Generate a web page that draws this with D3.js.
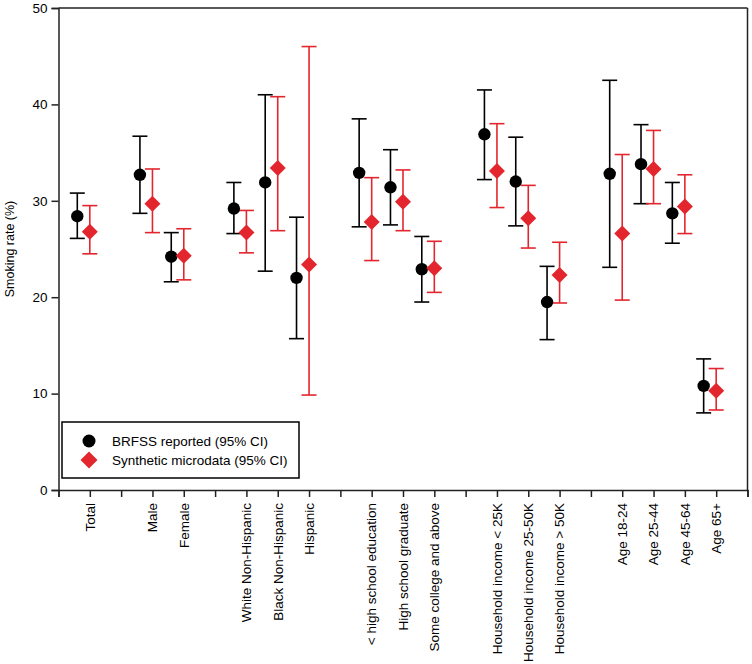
<!DOCTYPE html>
<html><head><meta charset="utf-8">
<script src="https://cdn.jsdelivr.net/npm/d3@7"></script>
<style>body{margin:0;background:#fff;}svg{display:block;font-family:"Liberation Sans",Arial,Helvetica,sans-serif;}</style>
</head><body>
<svg id="c" width="752" height="664"></svg>
<script>
const categories = ["Total","Male","Female","White Non-Hispanic","Black Non-Hispanic","Hispanic","< high school education","High school graduate","Some college and above","Household income < 25K","Household income 25-50K","Household income > 50K","Age 18-24","Age 25-44","Age 45-64","Age 65+"];
const slots = [1,3,4,6,7,8,10,11,12,14,15,16,18,19,20,21];
const brfssValue = [28.4,32.7,24.2,29.2,31.9,22.0,32.9,31.4,22.9,36.9,32.0,19.5,32.8,33.8,28.7,10.8];
const brfssLow   = [26.1,28.7,21.6,26.6,22.7,15.7,27.3,27.5,19.5,32.2,27.4,15.6,23.1,29.7,25.6,8.0];
const brfssHigh  = [30.8,36.7,26.7,31.9,41.0,28.3,38.5,35.3,26.3,41.5,36.6,23.2,42.5,37.9,31.9,13.6];
const synthValue = [26.8,29.7,24.3,26.7,33.4,23.4,27.8,29.9,23.0,33.1,28.2,22.3,26.6,33.3,29.4,10.3];
const synthLow   = [24.5,26.7,21.8,24.6,26.9,9.85,23.8,26.9,20.5,29.3,25.1,19.4,19.7,29.7,26.6,8.3];
const synthHigh  = [29.5,33.3,27.1,29.0,40.8,46.0,32.4,33.2,25.8,38.0,31.6,25.7,34.8,37.3,32.7,12.6];
const yTicks = [0,10,20,30,40,50];
const legendLabels = ["BRFSS reported (95% CI)","Synthetic microdata (95% CI)"];

const svg = d3.select("#c");
const L = 58.5, R = 747.5, T = 8, B = 490;
const x = d3.scaleLinear().domain([0,22]).range([L,R]);
const y = d3.scaleLinear().domain([0,50]).range([B,T]);
const black = "#000", red = "#e3262e";
const offset = 0.4;
const fs = 13.5;

// frame top & right
svg.append("line").attr("x1",L).attr("x2",R).attr("y1",T).attr("y2",T).attr("stroke","#222").attr("stroke-width",1.5);
svg.append("line").attr("x1",R).attr("x2",R).attr("y1",T).attr("y2",B).attr("stroke","#222").attr("stroke-width",1.5);

// y axis
const ya = svg.append("g").attr("transform",`translate(${L},0)`)
  .call(d3.axisLeft(y).tickValues(yTicks).tickSize(7).tickPadding(4).tickFormat(d3.format("d")));
ya.select(".domain").attr("stroke","#222").attr("stroke-width",1.5);
ya.selectAll(".tick line").attr("stroke","#222").attr("stroke-width",1.5);
ya.selectAll("text").attr("font-size",fs).attr("fill","#000").attr("font-family",'"Liberation Sans",Arial,sans-serif');

// x axis
const xa = svg.append("g").attr("transform",`translate(0,${B})`)
  .call(d3.axisBottom(x).tickValues(d3.range(0,23)).tickSize(7).tickFormat(""));
xa.select(".domain").attr("stroke","#222").attr("stroke-width",1.5);
xa.selectAll(".tick line").attr("stroke","#222").attr("stroke-width",1.5);

// x labels
svg.append("g").selectAll("text").data(categories).join("text")
  .attr("transform",(d,i)=>`translate(${x(slots[i])+4.8},${B+13}) rotate(-90)`)
  .attr("text-anchor","end").attr("font-size",fs).attr("fill","#000").text(d=>d);

// y label
svg.append("text").attr("transform",`translate(14,${(T+B)/2}) rotate(-90)`)
  .attr("text-anchor","middle").attr("font-size",12.5).attr("fill","#000").text("Smoking rate (%)");

function errorBars(vals, lo, hi, dx, color){
  const g = svg.append("g").attr("stroke",color).attr("stroke-width",1.6).attr("fill","none");
  vals.forEach((v,i)=>{
    const cx = x(slots[i]+dx);
    g.append("line").attr("x1",cx).attr("x2",cx).attr("y1",y(lo[i])).attr("y2",y(hi[i]));
    g.append("line").attr("x1",cx-7.5).attr("x2",cx+7.5).attr("y1",y(lo[i])).attr("y2",y(lo[i]));
    g.append("line").attr("x1",cx-7.5).attr("x2",cx+7.5).attr("y1",y(hi[i])).attr("y2",y(hi[i]));
  });
}
errorBars(brfssValue, brfssLow, brfssHigh, -offset, black);
errorBars(synthValue, synthLow, synthHigh, 0, red);

const diamond = s => `M0,${-s}L${s},0L0,${s}L${-s},0Z`;
svg.append("g").selectAll("circle").data(brfssValue).join("circle")
  .attr("cx",(d,i)=>x(slots[i]-offset)).attr("cy",d=>y(d)).attr("r",6.2).attr("fill",black);
svg.append("g").selectAll("path").data(synthValue).join("path")
  .attr("transform",(d,i)=>`translate(${x(slots[i])},${y(d)})`).attr("d",diamond(8)).attr("fill",red);

// legend
const lg = svg.append("g");
lg.append("rect").attr("x",62).attr("y",422).attr("width",237).attr("height",56)
  .attr("fill","#fff").attr("stroke","#000").attr("stroke-width",1.5);
lg.append("circle").attr("cx",89).attr("cy",441).attr("r",6.5).attr("fill",black);
lg.append("path").attr("transform","translate(89,460)").attr("d",diamond(8.5)).attr("fill",red);
lg.selectAll("text").data(legendLabels).join("text")
  .attr("x",112).attr("y",(d,i)=>441+i*19).attr("dy","0.35em").attr("font-size",fs).attr("fill","#000").text(d=>d);
</script>
</body></html>
